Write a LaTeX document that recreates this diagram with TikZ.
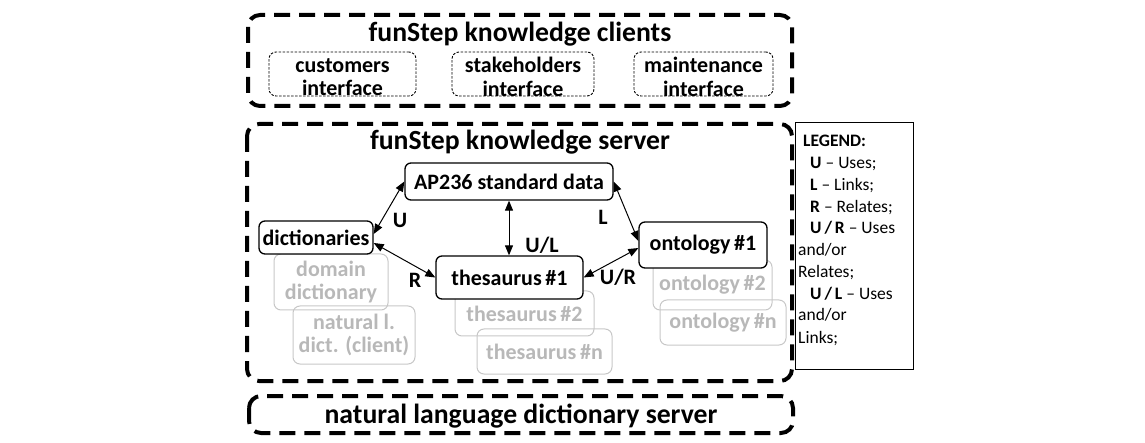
\documentclass[tikz,border=0pt]{standalone}
\usepackage{fontspec}
\setmainfont{Carlito}
\usetikzlibrary{arrows.meta,calc}
\begin{document}
\begin{tikzpicture}[x=1pt,y=-1pt,
  bigdash/.style={line width=4pt, dash pattern=on 16pt off 9pt, rounded corners=12pt},
  titlefont/.style={font=\bfseries\fontsize{27.7}{30}\selectfont},
  boxfont/.style={font=\bfseries\fontsize{22}{23.5}\selectfont},
  clientbox/.style={draw, line width=0.9pt, dash pattern=on 2.5pt off 1.5pt, rounded corners=7pt, inner sep=0pt},
  clienttext/.style={align=center, boxfont, inner sep=0pt},
  blackbox/.style={draw, fill=white, line width=1.3pt, rounded corners=6pt, boxfont, inner sep=1pt},
  graybox/.style={draw=black!22, text=black!28, line width=1pt, rounded corners=7pt, boxfont, align=center, inner sep=0pt},
  link/.style={line width=1pt, {Triangle[length=10pt,width=8pt]}-{Triangle[length=10pt,width=8pt]}},
  lbl/.style={boxfont, inner sep=0pt},
  legline/.style={anchor=base west, inner sep=0pt, font=\fontsize{17.5}{19}\selectfont}
]
\useasboundingbox (0,0) rectangle (1145,443);

% clients
\draw[bigdash] (248,15) rectangle (792,106);
\node[titlefont, anchor=base] (ctitle) at (520,42) {funStep knowledge clients};
\node[clientbox, minimum width=147pt, minimum height=44pt] (cust) at (342.5,74) {};
\node[clientbox, minimum width=142pt, minimum height=44pt] (stake) at (523,74) {};
\node[clientbox, minimum width=139pt, minimum height=44pt] (maint) at (703.5,74) {};
\node[clienttext] (custt) at ([yshift=-3pt]cust.center) {customers\\interface};
\node[clienttext] (staket) at ([yshift=-3pt]stake.center) {stakeholders\\interface};
\node[clienttext] (maintt) at ([yshift=-3pt]maint.center) {maintenance\\interface};

% server
\draw[bigdash] (247,124) rectangle (792,381);
\node[titlefont, anchor=base] (stitle) at (520,150) {funStep knowledge server};

\node[graybox, minimum width=114pt, minimum height=56pt] (dom) at (331,282) {domain\\dictionary};
\node[graybox, minimum width=122pt, minimum height=58pt] (natl) at (354,335) {natural l.\\dict. (client)};
\node[graybox, minimum width=139pt, minimum height=45pt] (th2) at (524.5,313.5) {thesaurus\,\#2};
\node[graybox, minimum width=135pt, minimum height=45pt] (thn) at (544.5,351.5) {thesaurus\,\#n};
\node[graybox, minimum width=119pt, minimum height=50pt] (on2) at (712.5,285) {ontology\,\#2};
\node[graybox, minimum width=126pt, minimum height=45pt] (onn) at (723,322.5) {ontology\,\#n};

\node[blackbox, minimum width=208pt, minimum height=37pt] (ap) at (509,181.5) {AP236 standard data};
\node[blackbox, minimum width=114pt, minimum height=33pt] (dict) at (316,237.5) {dictionaries};
\node[blackbox, minimum width=147pt, minimum height=43pt] (th1) at (509.5,277.5) {thesaurus\,\#1};
\node[blackbox, minimum width=128pt, minimum height=46pt] (on1) at (703,245) {ontology\,\#1};

\draw[link] (ap.west) -- ([yshift=3.5pt]dict.east);
\draw[link] (ap.east) -- ([yshift=4pt]on1.west);
\draw[link] (ap.south) -- (ap.south |- th1.north);
\draw[link] ([yshift=-5.5pt]dict.east) -- (th1.west);
\draw[link] ([yshift=-3pt]on1.west) -- (th1.east);

\node[lbl] (lu) at (400,220) {U};
\node[lbl] (ll) at (603,217) {L};
\node[lbl] (lul) at (542,245) {U/L};
\node[lbl] (lr) at (415,280) {R};
\node[lbl] (lur) at (618,277) {U/R};

% natural language server
\draw[bigdash] (249,396) rectangle (793,433);
\node[titlefont, anchor=base] (nl) at (521,423) {natural language dictionary server};

% legend
\draw[line width=1pt] (795,123) rectangle (913,369);
\node[legline] (g0) at (803,147) {\textbf{LEGEND:}};
\node[legline] (g1) at (810,169) {\textbf{U} – Uses;};
\node[legline] (g2) at (810,191) {\textbf{L} – Links;};
\node[legline] (g3) at (810,213) {\textbf{R} – Relates;};
\node[legline] (g4) at (810,234) {\textbf{U\,/\,R} – Uses};
\node[legline] (g5) at (798,256) {and/or};
\node[legline] (g6) at (798,278) {Relates;};
\node[legline] (g7) at (810,300) {\textbf{U\,/\,L} – Uses};
\node[legline] (g8) at (798,321) {and/or};
\node[legline] (g9) at (798,343) {Links;};
\end{tikzpicture}
\end{document}
